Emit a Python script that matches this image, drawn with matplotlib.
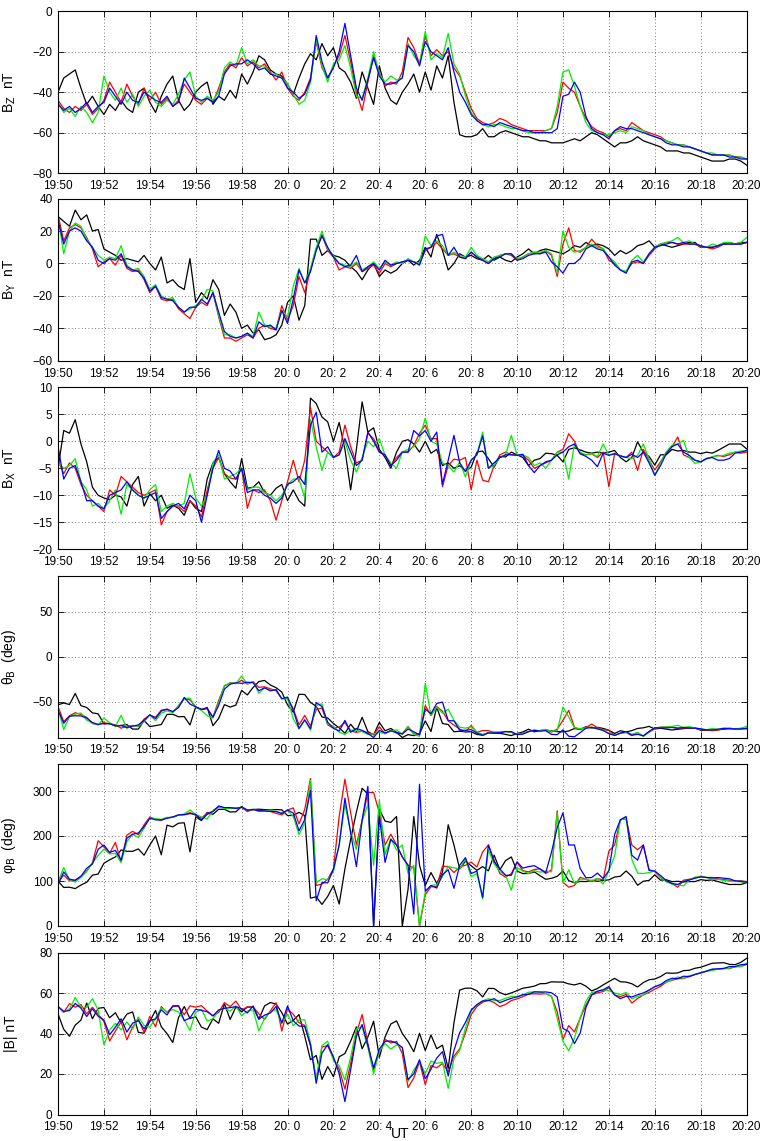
import numpy as np
import matplotlib
matplotlib.use("Agg")
import matplotlib.pyplot as plt

plt.rcParams['font.family'] = ['Liberation Sans', 'DejaVu Sans']

# Time axis: minutes after 19:50 UT, 15 s cadence (19:50 - 20:20)
minutes = np.arange(121) * 0.25
tick_minutes = np.arange(0, 31, 2)
tick_labels = ["19:50", "19:52", "19:54", "19:56", "19:58", "20: 0", "20: 2",
               "20: 4", "20: 6", "20: 8", "20:10", "20:12", "20:14", "20:16",
               "20:18", "20:20"]

# Spacecraft 1-4 (black, red, green, blue), GSE components in nT
bz_c1 = [-40, -33, -31, -29, -38, -46, -42, -47, -51, -46, -49, -44, -48, -50, -40, -38,
         -45, -50, -42, -36, -32, -44, -49, -46, -40, -37, -35, -46, -42, -44,
         -39, -43, -31, -36, -30, -22, -24, -29, -31, -32, -36, -41, -33, -26, -21, -24,
         -16, -22, -18, -28, -30, -35, -43, -30, -38, -46, -27, -38, -44, -46, -40,
         -36, -31, -40, -30, -39, -27, -33, -22, -45, -61, -62, -62, -61, -58, -62, -62,
         -60, -59, -60, -61, -62, -62, -63, -64, -64, -65, -65, -65, -64, -63,
         -64, -62, -60, -61, -63, -65, -67, -65, -65, -64, -62, -64, -65, -66, -67, -69,
         -69, -69, -70, -70, -71, -72, -73, -74, -74, -74, -73, -73, -74, -76]
bz_c2 = [-44, -48, -50, -47, -49, -46, -51, -48, -44, -35, -40, -45, -36, -42, -46, -38,
         -44, -40, -46, -43, -47, -44, -36, -40, -44, -46, -43, -45, -38, -30,
         -26, -28, -23, -27, -25, -28, -26, -30, -34, -30, -38, -42, -44, -40, -33, -15,
         -28, -33, -27, -22, -12, -25, -40, -49, -35, -22, -30, -37, -35, -36, -30,
         -13, -18, -26, -12, -22, -19, -22, -20, -28, -32, -40, -48, -53, -55, -56, -55,
         -53, -54, -56, -57, -58, -59, -59, -59, -59, -58, -50, -35, -38, -40,
         -47, -53, -57, -59, -60, -62, -59, -58, -59, -55, -57, -59, -60, -61, -62, -64,
         -65, -66, -66, -67, -68, -69, -70, -71, -71, -71, -71, -72, -72, -73]
bz_c3 = [-45, -50, -48, -52, -47, -50, -55, -50, -32, -40, -44, -38, -45, -41, -47, -42,
         -39, -45, -47, -44, -46, -41, -34, -30, -42, -45, -42, -44, -40, -28,
         -25, -27, -18, -26, -24, -27, -27, -31, -31, -33, -36, -41, -46, -44, -35, -14,
         -27, -35, -26, -24, -17, -28, -42, -43, -33, -20, -31, -35, -32, -34, -33,
         -16, -22, -26, -10, -24, -21, -23, -11, -26, -31, -42, -50, -54, -56, -57, -56,
         -56, -57, -58, -58, -59, -60, -60, -60, -59, -58, -47, -30, -29, -37,
         -47, -55, -59, -60, -61, -61, -60, -59, -60, -57, -58, -59, -61, -62, -63, -64,
         -65, -66, -66, -67, -68, -69, -70, -70, -71, -71, -71, -72, -72, -73]
bz_c4 = [-46, -49, -47, -50, -48, -45, -50, -47, -45, -38, -42, -46, -40, -44, -45, -40,
         -42, -44, -45, -42, -47, -45, -33, -38, -43, -44, -43, -45, -42, -31,
         -27, -26, -26, -24, -26, -29, -28, -31, -32, -33, -38, -40, -43, -41, -34, -12,
         -25, -33, -28, -20, -6, -22, -38, -44, -34, -23, -32, -36, -36, -35, -33,
         -17, -20, -27, -15, -20, -22, -24, -18, -30, -40, -45, -51, -54, -56, -56, -57,
         -55, -56, -57, -58, -59, -59, -60, -60, -60, -60, -58, -42, -41, -35,
         -40, -52, -58, -60, -61, -63, -59, -57, -58, -58, -59, -60, -61, -62, -63, -65,
         -66, -66, -67, -67, -68, -69, -70, -71, -71, -71, -72, -72, -73, -73]

by_c1 = [29, 26, 23, 33, 27, 30, 20, 21, 9, 7, 5, 2, 3, 2, 1, 5,
         0, -4, 4, -12, -10, -14, -16, 3, -24, -18, -22, -10, -16, -32,
         -25, -30, -40, -38, -43, -41, -47, -46, -44, -38, -24, -20, -35, -26, 15, 15,
         5, 8, 5, 4, 2, -2, -5, -10, -4, 0, -8, -4, -6, -4, 0,
         2, -1, 2, 10, 4, 18, 8, -4, 0, 6, 4, 5, 3, 2, 5, 2,
         4, 2, 1, 4, 6, 9, 6, 8, 9, 8, 7, 6, 8, 11,
         10, 13, 11, 12, 11, 9, 5, 8, 6, 8, 11, 12, 14, 10, 12, 11,
         10, 11, 12, 13, 13, 10, 10, 10, 11, 12, 13, 12, 13, 13]
by_c2 = [30, 14, 22, 24, 22, 16, 9, -2, 1, 3, -1, 5, -3, -5, -4, -10,
         -18, -14, -22, -23, -22, -28, -31, -34, -27, -24, -26, -18, -33, -46,
         -46, -48, -46, -44, -46, -40, -38, -40, -41, -26, -35, -26, -8, -18, -4, 9,
         18, 8, 4, -4, -2, -3, 0, -5, -3, -1, -6, 0, -2, 0, 1,
         2, 1, 0, 8, 10, 13, 9, 5, 6, 4, 3, 7, 4, 2, 0, 3,
         5, 6, 5, 2, 4, 6, 7, 6, 8, 5, -8, 12, 22, 8,
         7, 10, 15, 11, 9, 2, 0, -4, -5, 0, 1, 0, 5, 9, 12, 13,
         13, 12, 12, 12, 12, 10, 10, 9, 10, 12, 12, 12, 12, 13]
by_c3 = [28, 6, 20, 25, 23, 15, 10, 5, 2, 4, 3, 11, -1, -4, -3, -8,
         -16, -13, -20, -22, -21, -27, -30, -28, -26, -23, -16, -17, -32, -44,
         -44, -46, -45, -43, -45, -30, -38, -39, -40, -29, -33, -14, -3, -12, -3, 10,
         20, 9, 5, 0, -1, -2, 1, -4, -2, 1, -3, 1, -1, 1, 0,
         3, 1, 0, 17, 11, 14, 11, 5, 7, 5, 4, 10, 5, 3, 1, 4,
         5, 6, 6, 3, 4, 6, 7, 7, 8, 6, -6, 20, 10, 7,
         8, 10, 12, 10, 9, 4, 1, -4, -5, 2, 5, 1, 6, 10, 12, 13,
         14, 16, 13, 14, 12, 11, 10, 12, 11, 13, 13, 12, 13, 16]
by_c4 = [27, 12, 20, 22, 20, 14, 10, 2, 0, 3, 2, 6, -2, -4, -5, -9,
         -17, -14, -21, -22, -23, -27, -30, -27, -27, -22, -25, -18, -30, -42,
         -45, -46, -45, -43, -46, -36, -39, -38, -41, -29, -37, -22, -4, -12, -5, 8,
         17, 10, 4, 0, -2, -1, 5, -5, -2, 0, -4, 2, -1, 0, 1,
         2, 1, -1, 9, 10, 17, 18, 5, 10, 4, 3, 7, 4, 2, 0, 3,
         4, 6, 6, 2, 3, 5, 6, 6, 7, 1, -2, -6, 0, 0,
         3, 9, 11, 9, 8, 4, -1, -4, -6, 1, 2, 0, 6, 10, 11, 12,
         13, 12, 13, 12, 12, 11, 10, 10, 11, 12, 12, 12, 12, 13]

bx_c1 = [-5, 2, 1.5, 4, -0.5, -3.8, -8.5, -10, -10.5, -10.8, -10, -10.3, -12, -8, -6.5, -12,
         -9.7, -11, -10, -12.4, -11.8, -12.4, -13.7, -11, -12.4, -13, -7, -4, -3, -6,
         -7.5, -8.7, -3.2, -8.7, -8.5, -7.5, -9.5, -10, -8.7, -8, -11, -9, -11, -12, 8, 7,
         4.5, 3.6, 0, 3.5, -1.5, -9, -1.5, 7.3, 1.7, 2.5, -1.5, -3, -5, -2, 0,
         0.3, -0.5, -2, 0, -2.2, -1.5, -4.5, -4, -5, -4.5, -5.5, -4.8, -2, -1.8, -3.2, -4.8,
         -2.8, -2.9, -2, -2.5, -3, -4.5, -3.5, -3.2, -2.2, -2.3, -2.6, -3.8, -1.5, -1.2,
         -1.6, -2, -2.2, -2, -2.2, -2, -1.7, -3, -3.8, -3, -0.1, -2, -2.8, -4.4, -2.5, -2.5,
         -1.5, -1.8, -1.7, -2, -2, -2.3, -2, -2.2, -1.7, -1.1, -0.5, -0.5, -0.5, -1.4]
bx_c2 = [-3.5, -6, -4, -5, -8, -10, -11, -12, -13, -9, -10, -6.5, -7.5, -8.5, -9.5, -10,
         -9.5, -9, -15.5, -13, -12, -12, -13, -11, -12, -14, -9, -5, -3, -6,
         -6.8, -7, -5, -12.4, -9, -9.5, -9, -11, -14.6, -11, -7.5, -3.5, -7.5, -3.5, 6.3, 0,
         -1, -2, -3, -2, 3, -1, -4, -3.5, 1.5, 0.5, -2, -2.6, -4.5, -3, -2,
         -2, -0.8, 1.5, 3, 0.5, 0.5, -8.4, -4.5, -3.3, -3.5, -3, -9, -3.5, -7.2, -7.5, -4.5,
         -2.5, -2, -2.5, -2.5, -2.6, -3.5, -5, -4.5, -4, -3.5, -2, -1.5, 1.4, 0,
         -2.3, -2.5, -2.3, -3, -2, -8.4, -2.3, -2.7, -3, -2, -5.4, -1.5, -3.5, -5.3, -3.8, -2,
         -1, 0.8, -2.5, -3, -3.5, -3.8, -3.2, -2.9, -2.6, -2.8, -2.5, -2, -2.2, -2]
bx_c3 = [-4, -5, -4.5, -3.2, -7.5, -9, -12, -11.5, -12.5, -11, -9, -13.5, -8, -9, -10, -10.5,
         -9, -8, -13, -12, -11.5, -12, -11.5, -6, -10.5, -12, -10, -4, -2.5, -7,
         -6.5, -6, -5, -9, -8.5, -8.5, -9.5, -10, -11, -10, -8, -7, -7, -10.5, 4, -1,
         -5.4, -2, -3, -2.5, 0, -3.5, -5.7, -3, 0, -1, 0.5, -2.6, -4, -5, -2,
         -1.5, -1, 0.5, 4.3, 0, -0.5, -4, -4.5, -5.7, -3.8, -6.6, -3.5, -2.5, 1.7, -5, -4.5,
         -3, -2.5, 1.1, -2.5, -2.5, -3, -4.5, -4, -5, -3.5, -2, -2, -7, -0.5,
         -2, -2.5, -2.3, -2.8, -0.5, -2.6, -2.2, -2.7, -3, -3.2, -2.6, -0.5, -3.3, -6.3, -4, -2,
         -0.7, -0.5, 0.2, -3, -4.1, -3.8, -3.3, -2.9, -2.7, -2.6, -2.2, -2, -1.8, -1.7]
bx_c4 = [-1, -7, -5, -4.5, -7.5, -11, -11, -12, -12.5, -10, -9.5, -9, -7.5, -9, -10, -10.5,
         -10, -9.5, -14.3, -13, -12, -11.5, -12.5, -10, -11, -15, -10, -5, -1.7, -5,
         -5.5, -7, -5, -9.5, -9, -9, -10, -10.5, -11.5, -10.5, -8, -7.5, -6.5, -8, 3, 5.4,
         -2, -1, -3, -2.5, 0.5, -2, -4.5, -3.5, 1.7, 0, -2, -2.5, -4.5, -3.5, -2,
         -2, 2, 1, 2, 0, 1.7, -8, -3.5, 1.1, -4, -5.6, -3.5, -2.5, 1, -5, -4,
         -3, -2.5, -2.5, -2.6, -2.4, -4.5, -5.8, -4.5, -3.8, -3.5, -2.5, -2, -1, -0.5,
         -2.3, -2.8, -3.5, -4.7, -2.2, -2.6, -2.3, -2.7, -3, -2.4, -3, -2, -4, -6.3, -4.5, -2.3,
         -1, -0.5, -2, -2.6, -3.5, -3.8, -3.2, -3, -3.5, -3.5, -3.2, -2.2, -2, -1.7]

colors = ['black', '#ff0000', '#00ee00', '#0000ff']
bx_all = [np.array(v, float) for v in (bx_c1, bx_c2, bx_c3, bx_c4)]
by_all = [np.array(v, float) for v in (by_c1, by_c2, by_c3, by_c4)]
bz_all = [np.array(v, float) for v in (bz_c1, bz_c2, bz_c3, bz_c4)]

# Field magnitude, elevation and azimuth angles
bt_all = [np.sqrt(x**2 + y**2 + z**2) for x, y, z in zip(bx_all, by_all, bz_all)]
theta_all = [np.degrees(np.arcsin(z / b)) for z, b in zip(bz_all, bt_all)]
phi_all = [np.degrees(np.arctan2(y, x)) % 360 for x, y in zip(bx_all, by_all)]

panels = [
    (bz_all, r'B$_\mathrm{Z}$  nT', (-80, 0), np.arange(-80, 1, 20)),
    (by_all, r'B$_\mathrm{Y}$  nT', (-60, 40), np.arange(-60, 41, 20)),
    (bx_all, r'B$_\mathrm{X}$  nT', (-20, 10), np.arange(-20, 11, 5)),
    (theta_all, 'θ$_\\mathrm{B}$  (deg)', (-90, 90), [-50, 0, 50]),
    (phi_all, 'φ$_\\mathrm{B}$  (deg)', (0, 360), [0, 100, 200, 300]),
    (bt_all, '|B| nT', (0, 80), np.arange(0, 81, 20)),
]

W, H = 764, 1141
fig = plt.figure(figsize=(W / 100, H / 100), dpi=100)
left_px, width_px, height_px = 58, 688.6, 162
tops_px = [11.2, 198.7, 387.3, 575.5, 764.0, 952.5]

for (series, label, ylim, yticks), top in zip(panels, tops_px):
    ax = fig.add_axes([left_px / W, 1 - (top + height_px) / H,
                       width_px / W, height_px / H])
    for vals, c in zip(series, colors):
        ax.plot(minutes, vals, color=c, lw=0.9)
    ax.set_xlim(0, 30)
    ax.set_ylim(*ylim)
    ax.set_xticks(tick_minutes)
    ax.set_xticklabels(tick_labels)
    ax.set_yticks(yticks)
    ax.tick_params(direction='in', top=True, right=True, length=4,
                   width=0.6, labelsize=8.5)
    ax.tick_params(axis='x', pad=5)
    ax.tick_params(axis='y', pad=4)
    ax.grid(True, linestyle=(0, (1, 3)), color='0.3', linewidth=0.6)
    for s in ax.spines.values():
        s.set_linewidth(0.8)
    ax.set_ylabel(label, fontsize=10)
    ax.yaxis.set_label_coords(-0.058, 0.5)

fig.text(400 / W, 1 - 1134 / H, 'UT', ha='center', va='center', fontsize=10)

fig.savefig('out.png', dpi=100)
